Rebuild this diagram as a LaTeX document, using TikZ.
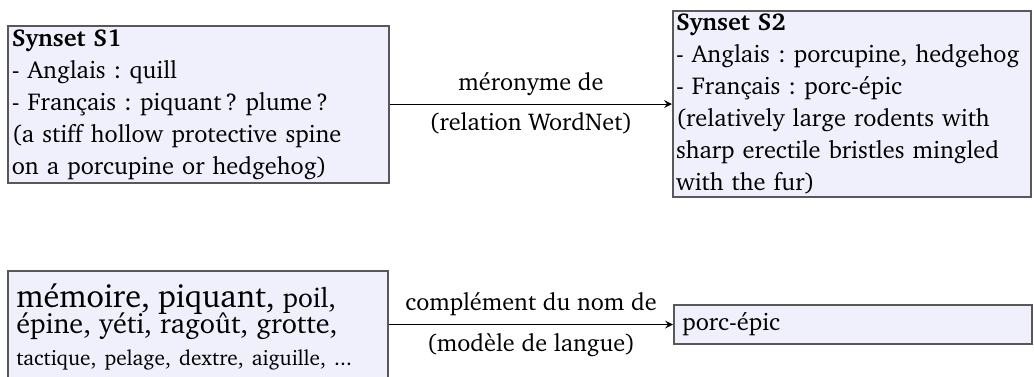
\documentclass[tikz,border=0pt]{standalone}
\usepackage[T1]{fontenc}
\usepackage{charter}
\usetikzlibrary{arrows,positioning}
\frenchspacing
\definecolor{synfill}{RGB}{240,240,252}
\definecolor{synline}{RGB}{88,88,88}
\tikzset{
  synbox/.style={draw=synline, line width=0.8pt, fill=synfill, align=left,
    inner sep=1.5pt, anchor=north west, text width=149.4pt,
    font={\fontsize{9.75}{12.8}\selectfont\hyphenpenalty=10000\relax}},
  rel/.style={->, >=stealth},
}
\begin{document}
\begin{tikzpicture}[x=1pt,y=1pt, font=\fontsize{9.7}{11.6}\selectfont]
  \useasboundingbox (0,0) rectangle (413.6,-150.4);

  % Synsets
  \node[synbox] (s1) at (2.8,-10) {\textbf{Synset S1}\\
    - Anglais : quill\\
    - Français : piquant\,? plume\,?\\
    (a stiff hollow protective spine\\
    on a porcupine or hedgehog)};
  \node[synbox, text width=140.8pt, inner sep=1.2pt] (s2) at (268.8,-4) {\textbf{Synset S2}\\
    - Anglais : porcupine, hedgehog\\
    - Français : porc-épic\\
    (relatively large rodents with\\
    sharp erectile bristles mingled\\
    with the fur)};
  \draw[rel] (s1.east |- s2.west) -- (s2.west)
    node[midway, above] {méronyme de}
    node[midway, below] {(relation WordNet)};

  % Language model
  \node[synbox, inner sep=3.33pt, text width=145.4pt] (lm) at (2.8,-108) {\lineskiplimit=-20pt
    \fontsize{12.9}{10.6}\selectfont\rule{0pt}{11.1pt}mémoire, piquant,
    {\fontsize{11}{10.6}\selectfont poil,}\\
    \fontsize{11.25}{10.6}\selectfont épine, yéti, ragoût, grotte,\\
    \fontsize{8.5}{10.6}\selectfont tactique, pelage, dextre, aiguille, ...\rule[-4pt]{0pt}{4pt}};
  \node[synbox, inner sep=3.33pt, text width=136.5pt, anchor=west] (pe) at (269.2,-129.8) {porc-épic};
  \draw[rel] (lm.east |- pe.west) -- (pe.west)
    node[midway, above] {complément du nom de}
    node[midway, below] {(modèle de langue)};
\end{tikzpicture}
\end{document}
